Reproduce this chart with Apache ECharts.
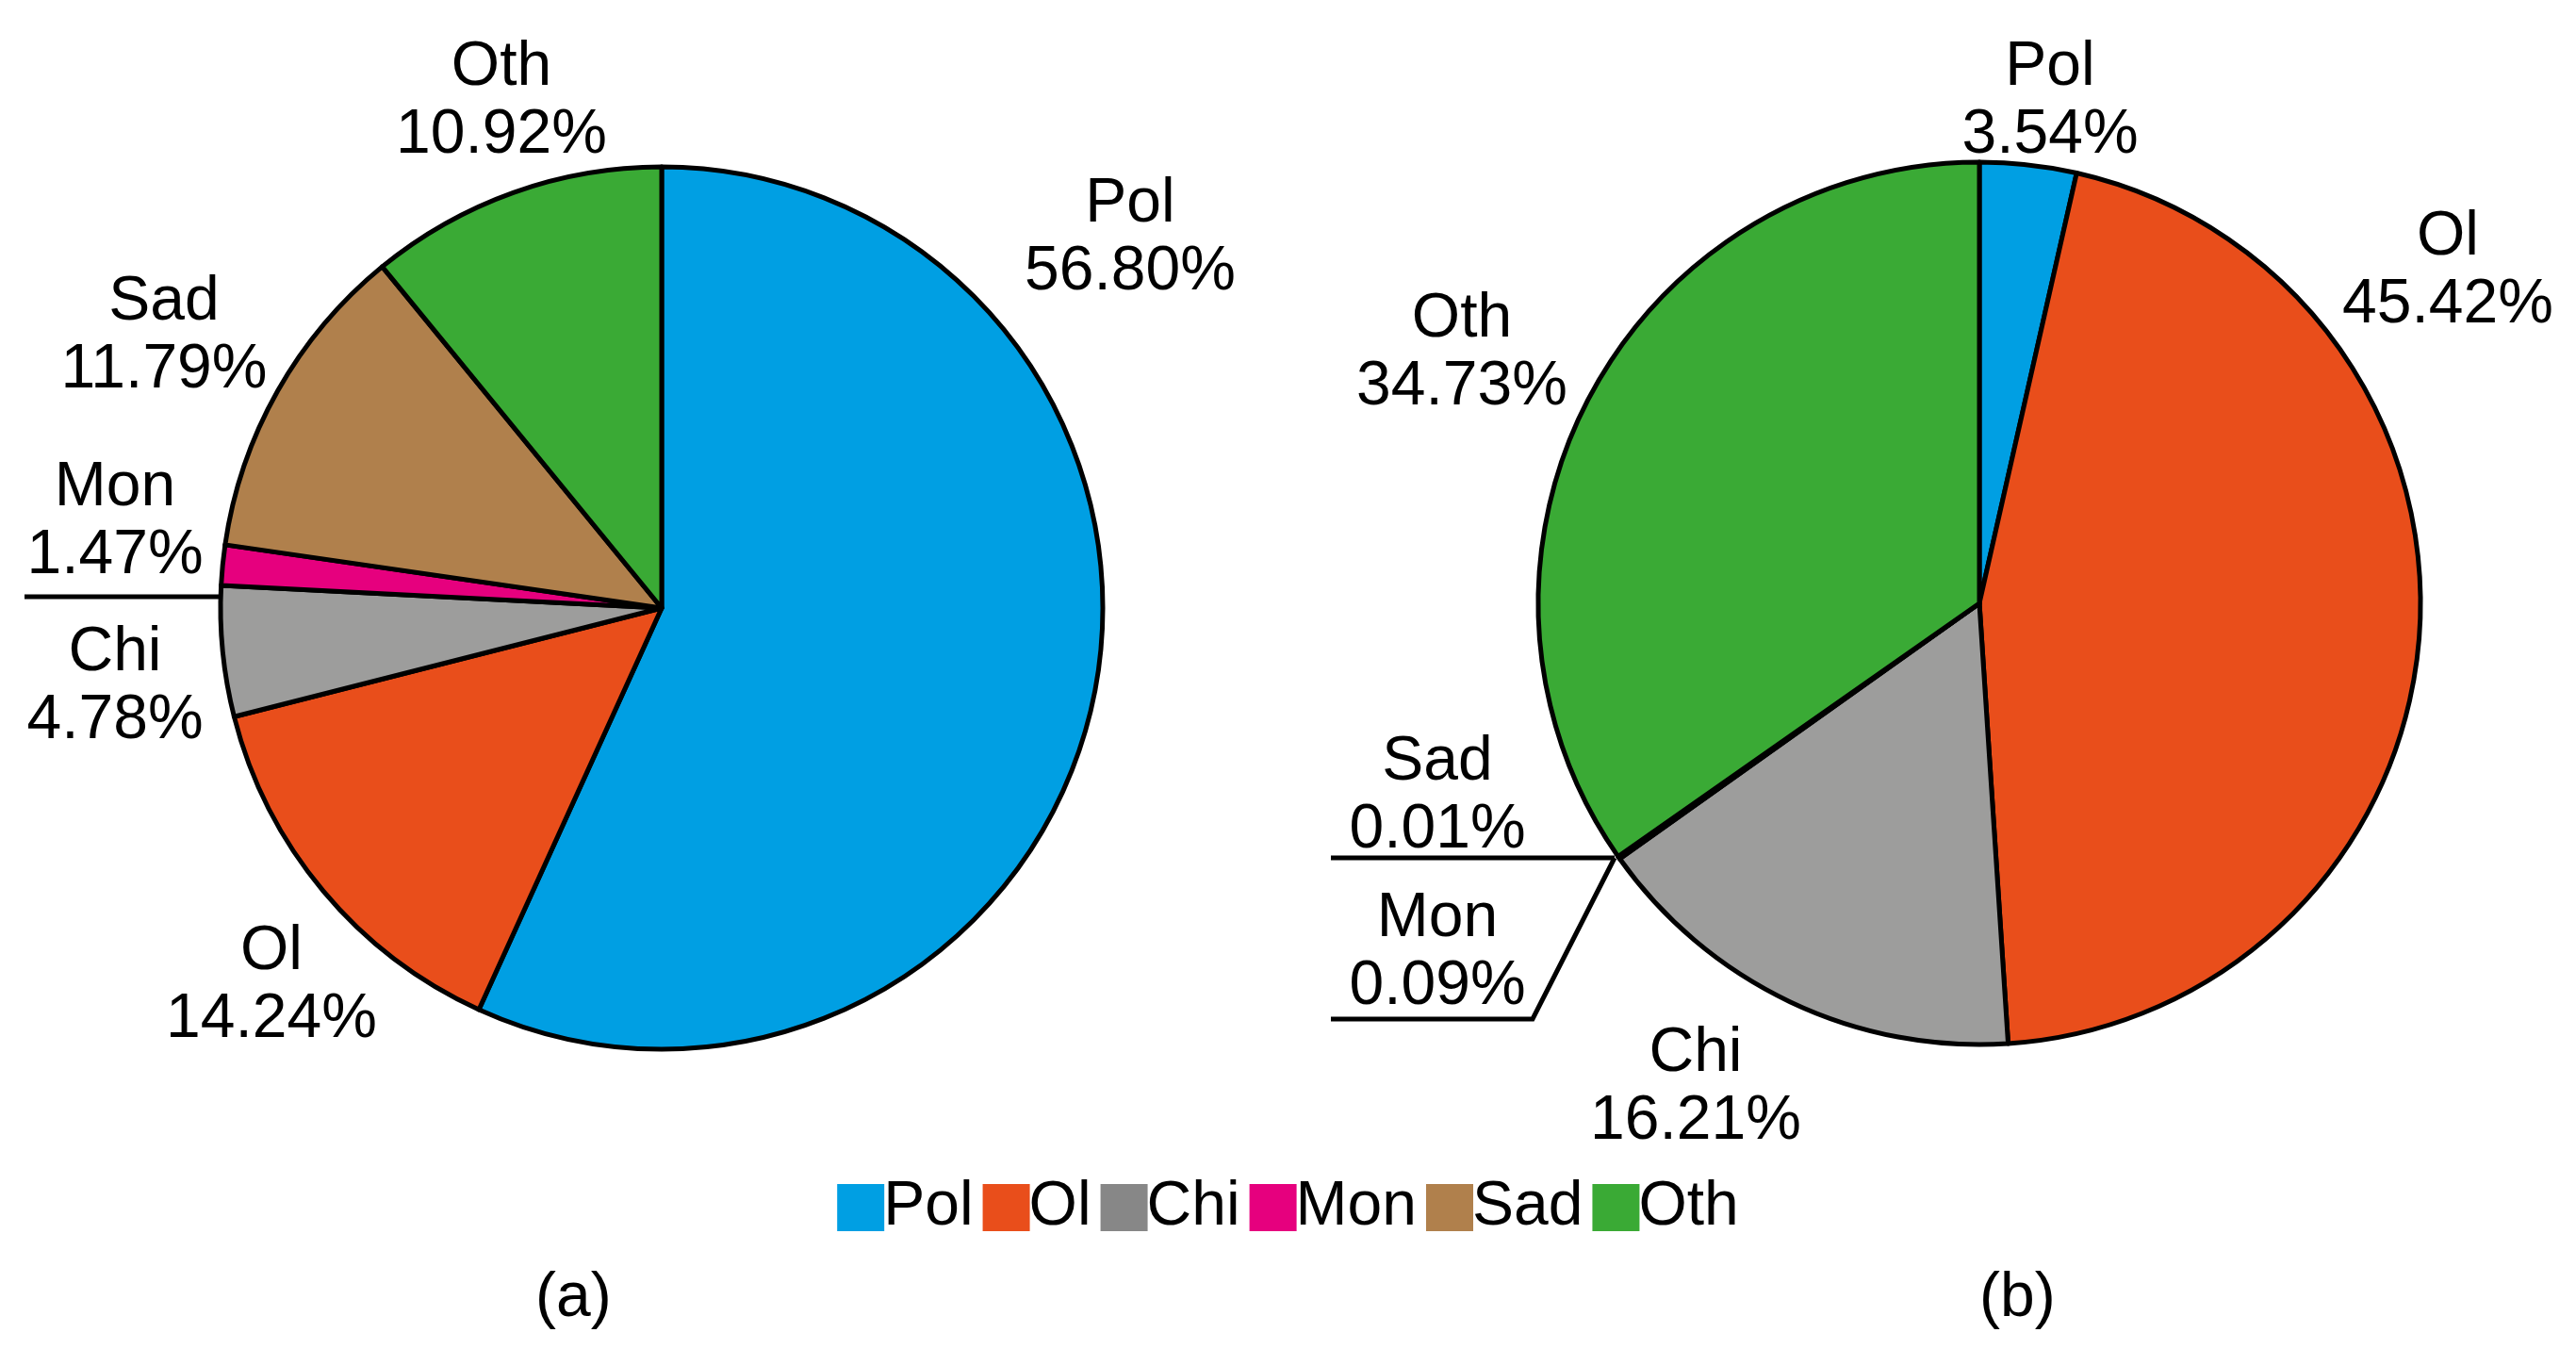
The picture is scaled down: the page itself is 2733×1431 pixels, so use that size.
<!DOCTYPE html>
<html><head><meta charset="utf-8">
<script src="https://cdn.jsdelivr.net/npm/echarts@6/dist/echarts.min.js"></script>
<style>html,body{margin:0;padding:0;background:#fff}#c{width:2733px;height:1431px}</style>
</head><body><div id="c"></div>
<script>
// categories and values
var categories = ['Pol', 'Ol', 'Chi', 'Mon', 'Sad', 'Oth'];
var valuesA = [56.80, 14.24, 4.78, 1.47, 11.79, 10.92];
var valuesB = [3.54, 45.42, 16.21, 0.09, 0.01, 34.73];
var colors = ['#009FE3', '#E94E1B', '#9D9D9C', '#E6007E', '#B0804C', '#3AAA35'];
var legendColors = ['#009FE3', '#E94E1B', '#878787', '#E6007E', '#B0804C', '#3AAA35'];
// label anchor positions (same order as categories)
var labelPosA = [[1199, 253], [288, 1046], [122, 729], [122, 554], [174, 357], [532, 108]];
var labelPosB = [[2175, 108], [2597, 288], [1799, 1154], [1525, 1011], [1525, 845], [1551, 375]];
var FONT = 'Liberation Sans, Arial, sans-serif';

var chart = echarts.init(document.getElementById('c'));

function pieSeries(center, vals, pos) {
  return {
    type: 'pie',
    center: center,
    radius: 468,
    startAngle: 90,
    clockwise: true,
    avoidLabelOverlap: false,
    itemStyle: { borderColor: '#000', borderWidth: 5 },
    label: {
      show: true,
      position: 'outside',
      color: '#000',
      fontSize: 66,
      lineHeight: 72,
      fontFamily: FONT,
      formatter: function (p) { return p.name + '\n' + p.value.toFixed(2) + '%'; }
    },
    labelLine: { show: false },
    labelLayout: function (p) {
      var xy = pos[p.dataIndex];
      return { x: xy[0], y: xy[1], align: 'center', verticalAlign: 'middle' };
    },
    emphasis: { disabled: true },
    data: categories.map(function (n, i) { return { name: n, value: vals[i], itemStyle: { color: colors[i] } }; })
  };
}

function line(points) {
  return { type: 'polyline', shape: { points: points }, style: { stroke: '#000', lineWidth: 5, fill: null } };
}

chart.setOption({
  animation: false,
  legend: {
    bottom: 112,
    left: 'center',
    itemWidth: 50,
    itemHeight: 50,
    itemGap: 10,
    icon: 'rect',
    itemStyle: { borderWidth: 0 },
    textStyle: { fontSize: 66, color: '#000', fontFamily: FONT, padding: [0, 0, 0, -6] },
    data: categories.map(function (n, i) { return { name: n, itemStyle: { color: legendColors[i], borderWidth: 0 } }; })
  },
  graphic: [
    { type: 'text', left: 568, top: 1345, style: { text: '(a)', fontSize: 66, fill: '#000', fontFamily: FONT } },
    { type: 'text', left: 2100, top: 1345, style: { text: '(b)', fontSize: 66, fill: '#000', fontFamily: FONT } },
    line([[236, 633], [26, 633]]),
    line([[1713, 910], [1412, 910]]),
    line([[1713, 910], [1626, 1081], [1412, 1081]])
  ],
  series: [
    pieSeries([702, 645], valuesA, labelPosA),
    pieSeries([2100, 640], valuesB, labelPosB)
  ]
});
</script>
</body></html>
